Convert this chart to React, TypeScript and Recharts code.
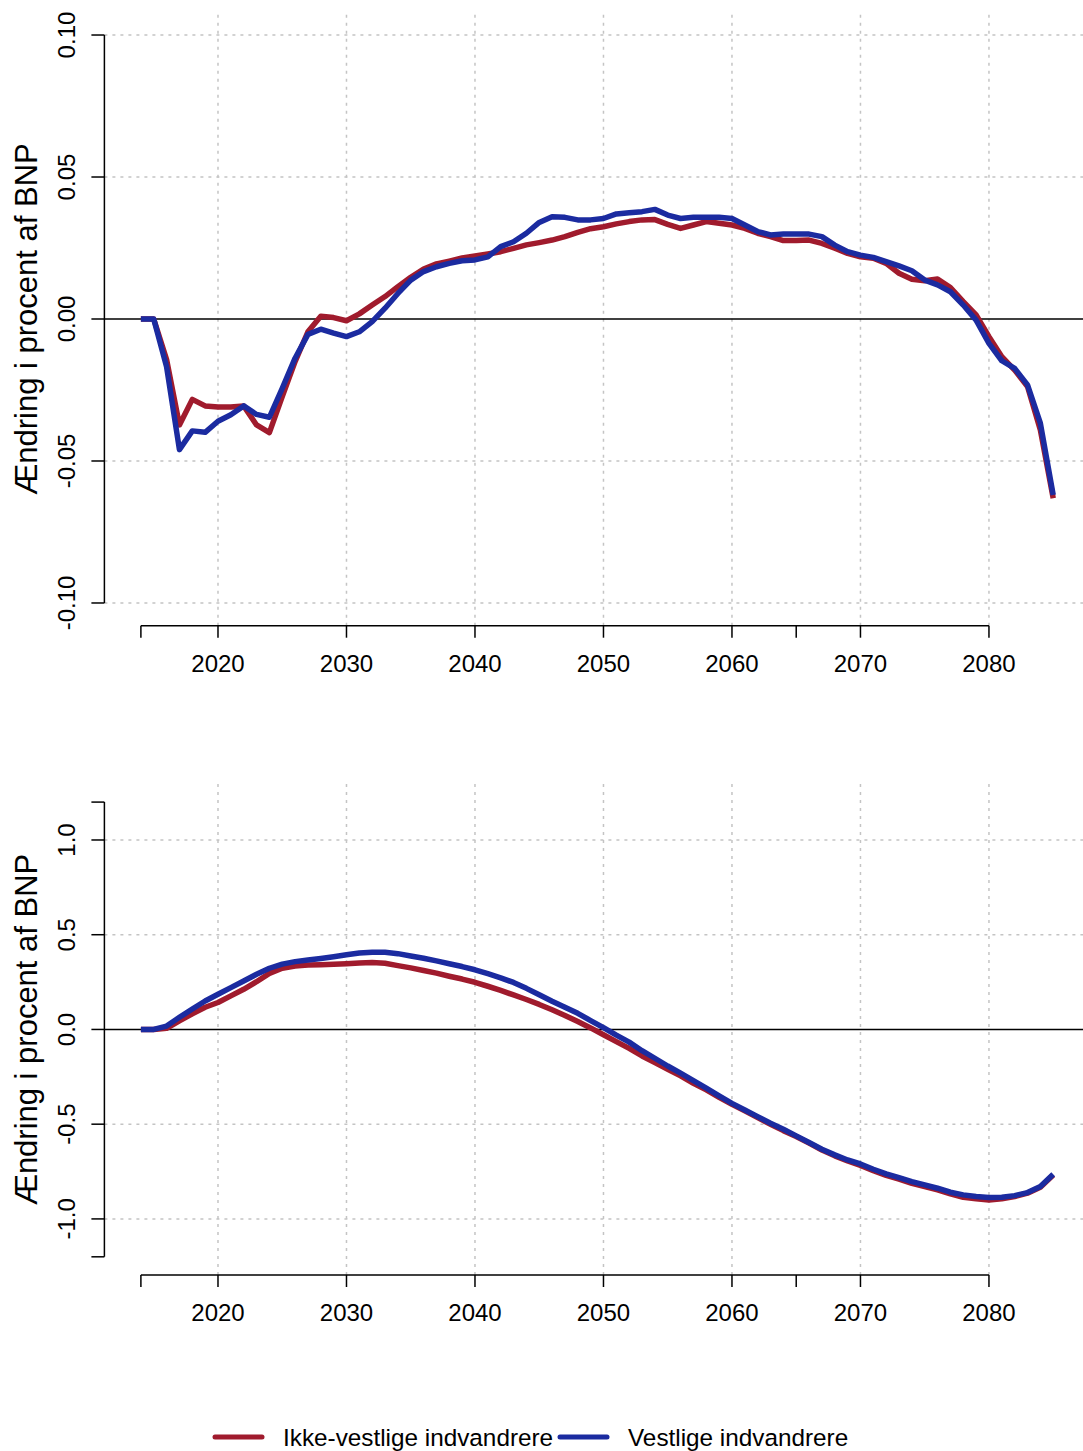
import React from 'react';
import { LineChart, Line, XAxis, YAxis, ReferenceLine } from 'recharts';

// years 2014..2085
const years = [
  2014, 2015, 2016, 2017, 2018, 2019, 2020, 2021, 2022, 2023, 2024, 2025,
  2026, 2027, 2028, 2029, 2030, 2031, 2032, 2033, 2034, 2035, 2036, 2037,
  2038, 2039, 2040, 2041, 2042, 2043, 2044, 2045, 2046, 2047, 2048, 2049,
  2050, 2051, 2052, 2053, 2054, 2055, 2056, 2057, 2058, 2059, 2060, 2061,
  2062, 2063, 2064, 2065, 2066, 2067, 2068, 2069, 2070, 2071, 2072, 2073,
  2074, 2075, 2076, 2077, 2078, 2079, 2080, 2081, 2082, 2083, 2084, 2085,
];

// top panel
const topIkke = [
  0, 0, -0.0143, -0.0373, -0.0283, -0.0306, -0.031, -0.031, -0.0306, -0.0373, -0.04, -0.0273,
  -0.015, -0.0045, 0.001, 0.0005, -0.0006, 0.0018, 0.0049, 0.0079, 0.0114, 0.0147, 0.0176, 0.0194,
  0.0204, 0.0215, 0.0222, 0.0229, 0.0237, 0.0249, 0.0261, 0.0269, 0.0278, 0.029, 0.0305, 0.0318,
  0.0325, 0.0335, 0.0343, 0.0349, 0.035, 0.0333, 0.0319, 0.0331, 0.0343, 0.0337, 0.0331, 0.0319,
  0.0302, 0.029, 0.0276, 0.0276, 0.0278, 0.0266, 0.0249, 0.0231, 0.0219, 0.0214, 0.0196, 0.0161,
  0.014, 0.0135, 0.0141, 0.0111, 0.0061, 0.0014, -0.0062, -0.0133, -0.018, -0.0238, -0.0391, -0.0631,
];
const topVest = [
  0, 0, -0.0168, -0.046, -0.0394, -0.0399, -0.036, -0.0337, -0.0306, -0.0336, -0.0346, -0.0244,
  -0.0138, -0.0054, -0.0036, -0.005, -0.0062, -0.0045, -0.0009, 0.0038, 0.009, 0.0137, 0.0167, 0.0184,
  0.0196, 0.0205, 0.0208, 0.0219, 0.0255, 0.0272, 0.0302, 0.034, 0.036, 0.0358, 0.0349, 0.0349,
  0.0354, 0.037, 0.0374, 0.0378, 0.0386, 0.0366, 0.0354, 0.0358, 0.0358, 0.0358, 0.0354, 0.0331,
  0.0308, 0.0296, 0.0299, 0.0299, 0.0299, 0.029, 0.026, 0.0237, 0.0225, 0.0217, 0.0202, 0.0187,
  0.017, 0.0137, 0.012, 0.0096, 0.0049, -0.0004, -0.0086, -0.0147, -0.0174, -0.0232, -0.0367, -0.062,
];

// bottom panel
const botIkke = [
  0, 0, 0.006, 0.045, 0.082, 0.117, 0.142, 0.177, 0.212, 0.252, 0.296, 0.323,
  0.335, 0.34, 0.342, 0.344, 0.347, 0.351, 0.353, 0.349, 0.337, 0.325, 0.311, 0.297,
  0.281, 0.266, 0.249, 0.228, 0.206, 0.182, 0.158, 0.132, 0.104, 0.074, 0.042, 0.008,
  -0.028, -0.064, -0.1, -0.14, -0.175, -0.21, -0.245, -0.284, -0.319, -0.358, -0.395, -0.43,
  -0.465, -0.5, -0.534, -0.565, -0.6, -0.636, -0.667, -0.694, -0.718, -0.745, -0.77, -0.79,
  -0.812, -0.829, -0.847, -0.868, -0.886, -0.894, -0.9, -0.894, -0.882, -0.864, -0.833, -0.768,
];
const botVest = [
  0, 0, 0.018, 0.064, 0.108, 0.15, 0.186, 0.221, 0.256, 0.291, 0.323, 0.345,
  0.358, 0.367, 0.375, 0.384, 0.394, 0.403, 0.407, 0.407, 0.4, 0.388, 0.376, 0.362,
  0.347, 0.332, 0.315, 0.294, 0.272, 0.248, 0.217, 0.183, 0.149, 0.117, 0.085, 0.047,
  0.01, -0.03, -0.067, -0.112, -0.152, -0.193, -0.231, -0.27, -0.31, -0.351, -0.39, -0.425,
  -0.46, -0.495, -0.527, -0.562, -0.597, -0.632, -0.662, -0.689, -0.71, -0.738, -0.762, -0.782,
  -0.803, -0.82, -0.838, -0.859, -0.873, -0.882, -0.887, -0.886, -0.877, -0.861, -0.829, -0.764,
];

const xTicks = [2014, 2020, 2030, 2040, 2050, 2060, 2065, 2070, 2080];
const xLabelled = [2020, 2030, 2040, 2050, 2060, 2070, 2080];
const topTicks = [-0.1, -0.05, 0, 0.05, 0.1];
const topGrid = [-0.1, -0.05, 0.05, 0.1];
const botTicks = [-1.2, -1, -0.5, 0, 0.5, 1, 1.2];
const botLabelled = [-1, -0.5, 0, 0.5, 1];
const botGrid = [-1, -0.5, 0.5, 1];

const seriesNames = ['Ikke-vestlige indvandrere', 'Vestlige indvandrere'];
const yTitle = 'Ændring i procent af BNP';

const RED = '#A01B2D';
const BLUE = '#1B2BA0';
const GRID = '#c4c4c4';
const FONT = '"Liberation Sans", Arial, sans-serif';

// R default axis padding (4%)
const X_DOMAIN = [2011.16, 2087.84];

const topData = years.map((y, i) => ({ year: y, ikke: topIkke[i], vest: topVest[i] }));
const botData = years.map((y, i) => ({ year: y, ikke: botIkke[i], vest: botVest[i] }));

const YTick = (props: any) => {
  const { x, y, payload, fmt, show } = props;
  if (!show(payload.value)) return null;
  return (
    <text
      x={x}
      y={y}
      transform={`rotate(-90, ${x}, ${y})`}
      textAnchor="middle"
      fontSize={24}
      fontFamily={FONT}
      fill="#000"
    >
      {fmt(payload.value)}
    </text>
  );
};

const YTitle = (props: any) => {
  const vb = props.viewBox;
  const cx = 37;
  const cy = vb.y + vb.height / 2;
  return (
    <text
      x={cx}
      y={cy}
      transform={`rotate(-90, ${cx}, ${cy})`}
      textAnchor="middle"
      fontSize={31}
      fontFamily={FONT}
      fill="#000"
    >
      {yTitle}
    </text>
  );
};

type PanelProps = {
  data: any[];
  yDomain: number[];
  yTicks: number[];
  yGrid: number[];
  yRange: number[];
  fmt: (v: number) => string;
  show: (v: number) => boolean;
  height: number;
  marginTop: number;
};

function Panel({ data, yDomain, yTicks, yGrid, yRange, fmt, show, height, marginTop }: PanelProps) {
  return (
    <LineChart
      width={1095}
      height={height}
      data={data}
      margin={{ top: marginTop, right: 5.3, bottom: 0, left: 0 }}
    >
      <XAxis
        dataKey="year"
        type="number"
        domain={X_DOMAIN}
        ticks={xTicks}
        allowDataOverflow
        height={74.3}
        axisLine={false}
        tickLine={{ stroke: '#000', strokeWidth: 1.5 }}
        tickSize={12}
        tickMargin={17}
        tick={{ fontSize: 24, fontFamily: FONT, fill: '#000' }}
        tickFormatter={(v: number) => (xLabelled.includes(v) ? String(v) : '')}
        interval={0}
      />
      <YAxis
        type="number"
        domain={yDomain}
        ticks={yTicks}
        allowDataOverflow
        width={104.4}
        axisLine={false}
        tickLine={{ stroke: '#000', strokeWidth: 1.5 }}
        tickSize={13}
        tickMargin={16}
        interval={0}
        tick={<YTick fmt={fmt} show={show} />}
        label={<YTitle />}
      />
      {xLabelled.map((v) => (
        <ReferenceLine key={'vx' + v} x={v} stroke={GRID} strokeWidth={1.5} strokeDasharray="3 5" ifOverflow="visible" />
      ))}
      {yGrid.map((v) => (
        <ReferenceLine key={'hy' + v} y={v} stroke={GRID} strokeWidth={1.5} strokeDasharray="3 5" ifOverflow="visible" />
      ))}
      <ReferenceLine y={0} stroke="#000" strokeWidth={1.5} />
      {/* axis lines only span the tick range, as in base R */}
      <ReferenceLine
        segment={[{ x: 2014, y: yDomain[0] }, { x: 2080, y: yDomain[0] }]}
        stroke="#000"
        strokeWidth={1.5}
        ifOverflow="visible"
      />
      <ReferenceLine
        segment={[{ x: X_DOMAIN[0], y: yRange[0] }, { x: X_DOMAIN[0], y: yRange[1] }]}
        stroke="#000"
        strokeWidth={1.5}
        ifOverflow="visible"
      />
      <Line type="linear" dataKey="ikke" stroke={RED} strokeWidth={5.5} dot={false} strokeLinejoin="round" isAnimationActive={false} />
      <Line type="linear" dataKey="vest" stroke={BLUE} strokeWidth={5.5} dot={false} strokeLinejoin="round" isAnimationActive={false} />
    </LineChart>
  );
}

export default function App() {
  return (
    <div
      style={{
        position: 'absolute',
        left: 0,
        top: 0,
        width: 1083,
        height: 1451,
        overflow: 'hidden',
        background: '#fff',
      }}
    >
      <div style={{ position: 'absolute', left: 0, top: 0 }}>
        <Panel
          data={topData}
          yDomain={[-0.108, 0.108]}
          yTicks={topTicks}
          yGrid={topGrid}
          yRange={[-0.1, 0.1]}
          fmt={(v) => v.toFixed(2)}
          show={() => true}
          height={700}
          marginTop={12.3}
        />
      </div>
      <div style={{ position: 'absolute', left: 0, top: 700 }}>
        <Panel
          data={botData}
          yDomain={[-1.296, 1.296]}
          yTicks={botTicks}
          yGrid={botGrid}
          yRange={[-1.2, 1.2]}
          fmt={(v) => v.toFixed(1)}
          show={(v) => botLabelled.includes(v)}
          height={649.3}
          marginTop={83.9}
        />
      </div>
      <svg style={{ position: 'absolute', left: 0, top: 1410 }} width={1083} height={41}>
        <line x1={215} x2={262} y1={27} y2={27} stroke={RED} strokeWidth={5} strokeLinecap="round" />
        <text x={283} y={27} dominantBaseline="central" fontSize={24.3} fontFamily={FONT} fill="#000">
          {seriesNames[0]}
        </text>
        <line x1={560} x2={607} y1={27} y2={27} stroke={BLUE} strokeWidth={5} strokeLinecap="round" />
        <text x={628} y={27} dominantBaseline="central" fontSize={24.3} fontFamily={FONT} fill="#000">
          {seriesNames[1]}
        </text>
      </svg>
    </div>
  );
}
